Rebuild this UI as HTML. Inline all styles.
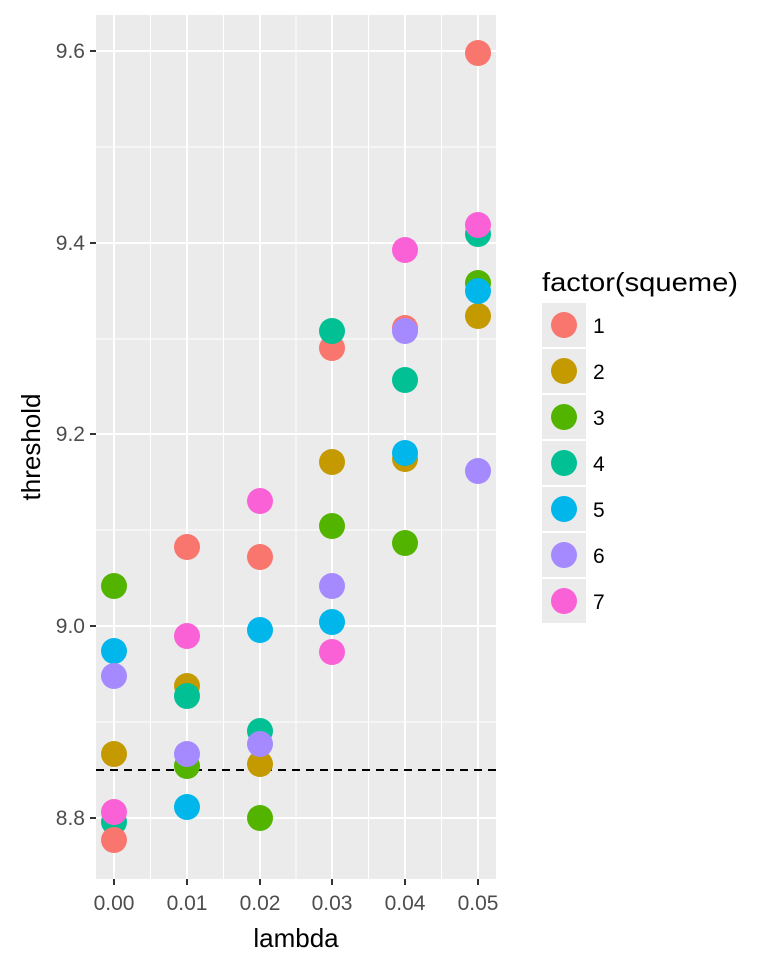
<!DOCTYPE html>
<html><head><style>body{margin:0;background:#fff}svg{display:block;font-family:"Liberation Sans",Arial,sans-serif}</style></head><body>
<svg width="768" height="960" xmlns="http://www.w3.org/2000/svg">
<rect x="96" y="15" width="400" height="864" fill="#EBEBEB"/>
<g stroke="#fff" stroke-width="1">
<line x1="96" x2="496" y1="147" y2="147"/><line x1="96" x2="496" y1="339" y2="339"/><line x1="96" x2="496" y1="530" y2="530"/><line x1="96" x2="496" y1="722" y2="722"/>
<line y1="15" y2="879" x1="150.5" x2="150.5"/><line y1="15" y2="879" x1="223.5" x2="223.5"/><line y1="15" y2="879" x1="296" x2="296"/><line y1="15" y2="879" x1="368.5" x2="368.5"/><line y1="15" y2="879" x1="441.5" x2="441.5"/>
</g>
<g stroke="#fff" stroke-width="2">
<line x1="96" x2="496" y1="51" y2="51"/><line x1="96" x2="496" y1="243" y2="243"/><line x1="96" x2="496" y1="434" y2="434"/><line x1="96" x2="496" y1="626" y2="626"/><line x1="96" x2="496" y1="818" y2="818"/>
<line y1="15" y2="879" x1="114" x2="114"/><line y1="15" y2="879" x1="187" x2="187"/><line y1="15" y2="879" x1="260" x2="260"/><line y1="15" y2="879" x1="332" x2="332"/><line y1="15" y2="879" x1="405" x2="405"/><line y1="15" y2="879" x1="478" x2="478"/>
</g>
<g stroke="#333" stroke-width="2">
<line x1="90" x2="96" y1="51" y2="51"/><line x1="90" x2="96" y1="243" y2="243"/><line x1="90" x2="96" y1="434" y2="434"/><line x1="90" x2="96" y1="626" y2="626"/><line x1="90" x2="96" y1="818" y2="818"/>
<line y1="879" y2="885" x1="114" x2="114"/><line y1="879" y2="885" x1="187" x2="187"/><line y1="879" y2="885" x1="260" x2="260"/><line y1="879" y2="885" x1="332" x2="332"/><line y1="879" y2="885" x1="405" x2="405"/><line y1="879" y2="885" x1="478" x2="478"/>
</g>
<g font-size="21" fill="#4d4d4d" text-anchor="end">
<text x="85" y="58">9.6</text><text x="85" y="250">9.4</text><text x="85" y="441">9.2</text><text x="85" y="633">9.0</text><text x="85" y="825">8.8</text>
</g>
<g font-size="21" fill="#4d4d4d" text-anchor="middle">
<text x="114" y="910">0.00</text><text x="187" y="910">0.01</text><text x="260" y="910">0.02</text><text x="332" y="910">0.03</text><text x="405" y="910">0.04</text><text x="478" y="910">0.05</text>
</g>
<text x="296" y="947" font-size="26" text-anchor="middle">lambda</text>
<text transform="translate(40,447) rotate(-90)" font-size="26" text-anchor="middle">threshold</text>
<line x1="96" x2="496" y1="770" y2="770" stroke="#000" stroke-width="2" stroke-dasharray="8,6"/>
<g>
<circle cx="114" cy="586" r="13" fill="#53B400"/><circle cx="114" cy="651" r="13" fill="#00B6EB"/><circle cx="114" cy="676" r="13" fill="#A58AFF"/><circle cx="114" cy="754" r="13" fill="#C49A00"/><circle cx="114" cy="822" r="13" fill="#00C094"/><circle cx="114" cy="840" r="13" fill="#F8766D"/><circle cx="114" cy="812" r="13" fill="#FB61D7"/>
<circle cx="187" cy="547" r="13" fill="#F8766D"/><circle cx="187" cy="686" r="13" fill="#C49A00"/><circle cx="187" cy="696" r="13" fill="#00C094"/><circle cx="187" cy="766" r="13" fill="#53B400"/><circle cx="187" cy="754" r="13" fill="#A58AFF"/><circle cx="187" cy="807" r="13" fill="#00B6EB"/><circle cx="187" cy="636" r="13" fill="#FB61D7"/>
<circle cx="260" cy="557" r="13" fill="#F8766D"/><circle cx="260" cy="630" r="13" fill="#00B6EB"/><circle cx="260" cy="731" r="13" fill="#00C094"/><circle cx="260" cy="764" r="13" fill="#C49A00"/><circle cx="260" cy="744" r="13" fill="#A58AFF"/><circle cx="260" cy="818" r="13" fill="#53B400"/><circle cx="260" cy="501" r="13" fill="#FB61D7"/>
<circle cx="332" cy="348" r="13" fill="#F8766D"/><circle cx="332" cy="331" r="13" fill="#00C094"/><circle cx="332" cy="462" r="13" fill="#C49A00"/><circle cx="332" cy="526" r="13" fill="#53B400"/><circle cx="332" cy="586" r="13" fill="#A58AFF"/><circle cx="332" cy="622" r="13" fill="#00B6EB"/><circle cx="332" cy="652" r="13" fill="#FB61D7"/>
<circle cx="405" cy="328" r="13" fill="#F8766D"/><circle cx="405" cy="331" r="13" fill="#A58AFF"/><circle cx="405" cy="380" r="13" fill="#00C094"/><circle cx="405" cy="459" r="13" fill="#C49A00"/><circle cx="405" cy="453" r="13" fill="#00B6EB"/><circle cx="405" cy="543" r="13" fill="#53B400"/><circle cx="405" cy="250" r="13" fill="#FB61D7"/>
<circle cx="478" cy="53" r="13" fill="#F8766D"/><circle cx="478" cy="234" r="13" fill="#00C094"/><circle cx="478" cy="283" r="13" fill="#53B400"/><circle cx="478" cy="316" r="13" fill="#C49A00"/><circle cx="478" cy="291" r="13" fill="#00B6EB"/><circle cx="478" cy="471" r="13" fill="#A58AFF"/><circle cx="478" cy="225" r="13" fill="#FB61D7"/>
</g>
<text x="542" y="291" font-size="26" textLength="196" lengthAdjust="spacingAndGlyphs">factor(squeme)</text>
<g>
<rect x="542" y="303" width="44" height="44" fill="#EBEBEB"/><circle cx="564" cy="325" r="13" fill="#F8766D"/>
<rect x="542" y="349" width="44" height="44" fill="#EBEBEB"/><circle cx="564" cy="371" r="13" fill="#C49A00"/>
<rect x="542" y="395" width="44" height="44" fill="#EBEBEB"/><circle cx="564" cy="417" r="13" fill="#53B400"/>
<rect x="542" y="441" width="44" height="44" fill="#EBEBEB"/><circle cx="564" cy="463" r="13" fill="#00C094"/>
<rect x="542" y="487" width="44" height="44" fill="#EBEBEB"/><circle cx="564" cy="509" r="13" fill="#00B6EB"/>
<rect x="542" y="533" width="44" height="44" fill="#EBEBEB"/><circle cx="564" cy="555" r="13" fill="#A58AFF"/>
<rect x="542" y="579" width="44" height="44" fill="#EBEBEB"/><circle cx="564" cy="601" r="13" fill="#FB61D7"/>
</g>
<g font-size="21">
<text x="593" y="333">1</text><text x="593" y="379">2</text><text x="593" y="425">3</text><text x="593" y="471">4</text><text x="593" y="517">5</text><text x="593" y="563">6</text><text x="593" y="609">7</text>
</g>
</svg>
</body></html>
